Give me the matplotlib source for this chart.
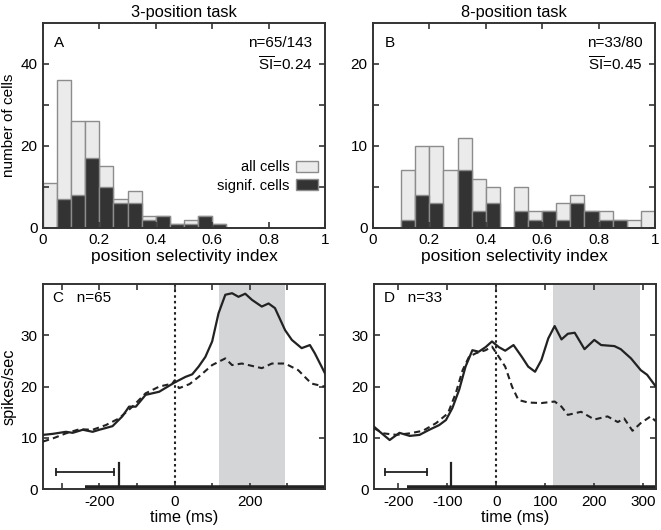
import numpy as np
import matplotlib
matplotlib.use("Agg")
import matplotlib.pyplot as plt

plt.rcParams['font.family'] = ['Liberation Sans', 'DejaVu Sans']
plt.rcParams['mathtext.fontset'] = 'custom'
plt.rcParams['mathtext.rm'] = 'Liberation Sans'
plt.rcParams['font.size'] = 11

# histogram data (bins of 0.05 from 0 to 1)
bin_starts = [0.00, 0.05, 0.10, 0.15, 0.20, 0.25, 0.30, 0.35, 0.40, 0.45,
              0.50, 0.55, 0.60, 0.65, 0.70, 0.75, 0.80, 0.85, 0.90, 0.95]
all3 = [11, 36, 26, 26, 15, 7, 9, 3, 3, 1, 2, 3, 1, 0, 0, 0, 0, 0, 0, 0]
sig3 = [0, 7, 8, 17, 10, 6, 6, 2, 3, 1, 1, 3, 1, 0, 0, 0, 0, 0, 0, 0]
all8 = [0, 0, 7, 10, 10, 7, 11, 6, 5, 0, 5, 2, 2, 3, 4, 2, 2, 1, 1, 2]
sig8 = [0, 0, 1, 4, 3, 0, 7, 2, 3, 0, 2, 1, 2, 1, 3, 2, 1, 1, 0, 0]

# population responses, 3-position task
tC = [-350, -324, -289, -271, -244, -218, -200, -165, -139, -121, -103, -77, -41, 0,
      29, 47, 64, 82, 100, 117, 135, 153, 170, 188, 206, 232, 250, 267, 294, 312,
      338, 360, 373, 400]
prefC = [10.6, 10.8, 11.2, 11.0, 11.6, 11.2, 11.6, 12.3, 14.2, 16.1, 16.1, 18.4, 19.0,
         20.8, 21.9, 22.4, 23.9, 25.8, 28.8, 34.3, 37.9, 38.2, 37.5, 38.1, 36.9, 35.6,
         36.2, 35.3, 31.0, 29.1, 27.5, 28.1, 26.5, 22.6]
tC2 = [-350, -324, -289, -253, -218, -183, -148, -112, -77, -41, -6, 0, 12, 40, 64,
       100, 135, 153, 179, 232, 259, 294, 329, 364, 400]
nonC = [9.3, 9.9, 10.9, 11.7, 11.6, 12.5, 13.8, 16.1, 18.7, 20.0, 20.6, 21.2, 19.7,
        20.5, 21.9, 24.2, 25.5, 24.2, 24.5, 23.6, 24.5, 24.5, 23.2, 20.6, 20.0]

# population responses, 8-position task
tD = [-250, -238, -218, -208, -198, -177, -157, -137, -117, -103, -90, -76, -63, -49,
      -36, -22, -9, 5, 18, 35, 52, 65, 79, 92, 106, 119, 133, 146, 160, 180, 200,
      214, 241, 254, 275, 295, 308, 325]
prefD = [12.2, 11.2, 9.6, 10.3, 11.0, 10.4, 10.6, 11.6, 12.5, 13.5, 15.8, 19.4, 23.9,
         27.1, 26.8, 27.7, 28.8, 27.7, 27.0, 28.1, 25.8, 23.9, 22.9, 25.2, 29.4, 31.8,
         29.2, 30.3, 30.5, 27.3, 29.1, 28.1, 27.9, 27.3, 25.5, 23.2, 22.3, 20.1]
tD2 = [-250, -231, -204, -177, -150, -123, -99, -83, -69, -56, -42, -22, -9, 5, 18, 32,
       45, 65, 92, 119, 133, 146, 173, 200, 227, 248, 261, 278, 295, 315, 325]
nonD = [11.9, 10.9, 10.6, 10.9, 11.4, 12.9, 14.8, 18.7, 23.2, 25.8, 26.5, 27.1, 27.8,
        25.8, 23.9, 20.0, 17.4, 16.9, 16.8, 17.1, 16.1, 14.5, 15.1, 13.6, 14.2, 13.1,
        13.8, 11.4, 12.9, 14.2, 13.3]

EDGE = '#8c8c8c'
LIGHT = '#ebebeb'
DARK = '#333333'
SHADE = '#d4d5d7'
AXC = '#333333'

fig = plt.figure(figsize=(6.61, 5.30), dpi=100)
axA = fig.add_axes([0.065, 0.570, 0.4266, 0.3868])
axB = fig.add_axes([0.5643, 0.570, 0.4266, 0.3868])
axC = fig.add_axes([0.065, 0.0768, 0.4266, 0.3874])
axD = fig.add_axes([0.5658, 0.0768, 0.4266, 0.3874])


def style(ax):
    for s in ax.spines.values():
        s.set_color(AXC)
        s.set_linewidth(1.4)
    ax.tick_params(direction='in', top=True, right=True, length=4, width=1.2,
                   color=AXC, pad=4, labelsize=11)


def histo(ax, alls, sigs, ymax, yt, ytl, title, letter, ntxt, sitxt):
    ax.bar(bin_starts, alls, width=0.05, align='edge', color=LIGHT,
           edgecolor=EDGE, linewidth=1.0, label='all cells')
    ax.bar(bin_starts, sigs, width=0.05, align='edge', color=DARK,
           edgecolor=EDGE, linewidth=1.0, label='signif. cells')
    ax.set_xlim(0, 1)
    ax.set_ylim(0, ymax)
    ax.set_xticks([0, 0.2, 0.4, 0.6, 0.8, 1])
    ax.set_xticklabels(['0', '0.2', '0.4', '0.6', '0.8', '1'])
    ax.set_yticks(yt)
    ax.set_yticklabels(ytl)
    ax.set_xlabel('position selectivity index', labelpad=1, fontsize=12.5)
    ax.set_title(title, pad=4, fontsize=11.8)
    ax.text(0.04, 0.935, letter, transform=ax.transAxes, ha='left', va='top')
    ax.text(0.955, 0.935, ntxt, transform=ax.transAxes, ha='right', va='top')
    ax.text(0.955, 0.84, sitxt, transform=ax.transAxes, ha='right', va='top')
    style(ax)


histo(axA, all3, sig3, 50, [0, 10, 20, 30, 40], ['0', '', '20', '', '40'],
      '3-position task', 'A', 'n=65/143', r'$\overline{\mathrm{SI}}$=0.24')
axA.set_ylabel('number of cells', labelpad=3, fontsize=11)
axA.legend(loc='center right', bbox_to_anchor=(0.985, 0.25), frameon=False,
           markerfirst=False, fontsize=10.5, handlelength=1.5, handleheight=0.75,
           labelspacing=0.3, borderaxespad=0, borderpad=0.2, handletextpad=0.45)

histo(axB, all8, sig8, 25, [0, 5, 10, 15, 20], ['0', '', '10', '', '20'],
      '8-position task', 'B', 'n=33/80', r'$\overline{\mathrm{SI}}$=0.45')


def psth(ax, t1, y1, t2, y2, xlim, xt, xtl, shade, bar, vline, thick, letter):
    ax.axvspan(shade[0], shade[1], color=SHADE, lw=0, zorder=0)
    ax.axvline(0, color='#222222', ls=(0, (1.2, 1.5)), lw=1.5, zorder=1)
    ax.plot(t1, y1, color='#222222', lw=1.6, zorder=3)
    ax.plot(t2, y2, color='#222222', lw=1.5, ls=(0, (3, 2)), zorder=3)
    ax.plot(bar, [3.3, 3.3], color='#222222', lw=1.3, marker='|', ms=6, mew=1.3)
    ax.plot([vline, vline], [0, 5.2], color='#222222', lw=1.6)
    ax.plot([thick, xlim[1]], [0.3, 0.3], color='#222222', lw=4, solid_capstyle='butt')
    ax.set_xlim(*xlim)
    ax.set_ylim(0, 40)
    ax.set_xticks(xt)
    ax.set_xticklabels(xtl)
    ax.set_yticks([0, 10, 20, 30])
    ax.set_xlabel('time (ms)', labelpad=1, fontsize=11.8)
    ax.text(0.035, 0.965, letter, transform=ax.transAxes, ha='left', va='top')
    style(ax)


psth(axC, tC, prefC, tC2, nonC, (-350, 400),
     [-300, -200, -100, 0, 100, 200, 300], ['', '-200', '', '0', '', '200', ''],
     (118, 293), [-316, -160], -147, -239, 'C   n=65')
axC.set_ylabel('spikes/sec', labelpad=3, fontsize=11.8)

psth(axD, tD, prefD, tD2, nonD, (-250, 326),
     [-200, -100, 0, 100, 200, 300], ['-200', '-100', '0', '100', '200', '300'],
     (116, 294), [-227, -141], -92, -183, 'D   n=33')

fig.savefig('out.png', dpi=100)
